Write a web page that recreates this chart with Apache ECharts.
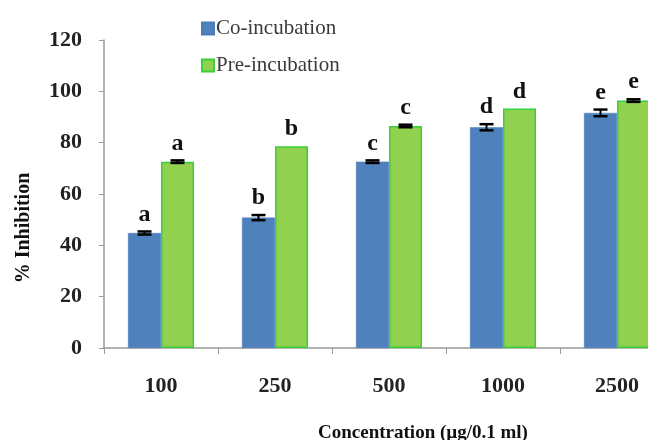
<!DOCTYPE html>
<html>
<head>
<meta charset="utf-8">
<script src="https://cdn.jsdelivr.net/npm/echarts@6/dist/echarts.min.js"></script>
<style>html,body{margin:0;padding:0;background:#fff}#c{width:648px;height:440px}</style>
</head>
<body>
<div id="c"></div>
<script>
var categories = ['100', '250', '500', '1000', '2500'];
var coValues = [44.8, 50.8, 72.6, 86.0, 91.6];
var preValues = [72.6, 78.6, 86.5, 93.3, 96.4];
var coErrors = [0.6, 1.0, 0.5, 1.2, 1.3];
var preErrors = [0.5, 0, 0.5, 0, 0.5];
var coLetters = ['a', 'b', 'c', 'd', 'e'];
var preLetters = ['a', 'b', 'c', 'd', 'e'];
var yTicks = [0, 20, 40, 60, 80, 100, 120];

var FONT = "'Liberation Serif','Times New Roman',serif";
var BAR_W = 33;

function errSeries(name, vals, errs, letters, dx) {
  return {
    type: 'custom',
    name: name + ' err',
    silent: true,
    z: 5,
    data: vals.map(function (v, i) { return [i, v, errs[i]]; }),
    renderItem: function (params, api) {
      var i = api.value(0), v = api.value(1), e = api.value(2);
      var letter = letters[params.dataIndex];
      var top = api.coord([i, v + e]);
      var bot = api.coord([i, v - e]);
      var x = top[0] + dx;
      var children = [];
      if (e > 0) {
        children.push({ type: 'line', shape: { x1: x, y1: top[1], x2: x, y2: bot[1] }, style: { stroke: '#000', lineWidth: 2 } });
        children.push({ type: 'line', shape: { x1: x - 7, y1: top[1], x2: x + 7, y2: top[1] }, style: { stroke: '#000', lineWidth: 2.5 } });
        children.push({ type: 'line', shape: { x1: x - 7, y1: bot[1], x2: x + 7, y2: bot[1] }, style: { stroke: '#000', lineWidth: 2.5 } });
      }
      children.push({ type: 'text', style: { text: letter, x: x, y: top[1] - 5, align: 'center', verticalAlign: 'bottom', font: 'bold 24px ' + FONT, fill: '#111' } });
      return { type: 'group', children: children };
    }
  };
}

var chart = echarts.init(document.getElementById('c'));
chart.setOption({
  animation: false,
  backgroundColor: '#fff',
  textStyle: { fontFamily: FONT },
  legend: {
    orient: 'vertical', left: 196, top: 13, itemGap: 16,
    itemWidth: 12, itemHeight: 12, icon: 'rect',
    data: ['Co-incubation', 'Pre-incubation'],
    textStyle: { fontFamily: FONT, fontSize: 21, color: '#3a3a3a', padding: [0, 0, 0, -3] }
  },
  grid: { left: 104, width: 570, top: 40, height: 308, containLabel: false, outerBoundsMode: 'none' },
  xAxis: {
    type: 'category', data: categories,
    name: 'Concentration (\u00b5g/0.1 ml)', nameLocation: 'middle', nameGap: 76,
    nameTextStyle: { fontFamily: FONT, fontSize: 19, fontWeight: 'bold', color: '#111', padding: [0, 0, 0, 68] },
    axisLine: { lineStyle: { color: '#999', width: 1.5 } },
    axisTick: { show: true, length: 6, lineStyle: { color: '#999' } },
    axisLabel: { fontFamily: FONT, fontSize: 22, fontWeight: 'bold', color: '#222', margin: 27 }
  },
  yAxis: {
    type: 'value', min: 0, max: 120, interval: 20,
    name: '% Inhibition', nameLocation: 'middle', nameGap: 70, nameRotate: 90,
    nameTextStyle: { fontFamily: FONT, fontSize: 20, fontWeight: 'bold', color: '#111', padding: [0, 68, 0, 0] },
    axisLine: { show: true, lineStyle: { color: '#999', width: 1.5 } },
    axisTick: { show: true, length: 5, lineStyle: { color: '#999' } },
    splitLine: { show: false },
    axisLabel: {
      fontFamily: FONT, fontSize: 22, fontWeight: 'bold', color: '#222', margin: 22,
      padding: [4, 0, 0, 0],
      formatter: function (v) { return yTicks.indexOf(v) >= 0 ? String(v) : ''; }
    }
  },
  series: [
    { type: 'bar', name: 'Co-incubation', data: coValues, barWidth: BAR_W, barGap: '0%',
      itemStyle: { color: '#4f81bd', borderColor: '#4a7cb8', borderWidth: 0.5 } },
    { type: 'bar', name: 'Pre-incubation', data: preValues, barWidth: BAR_W, barGap: '0%',
      itemStyle: { color: '#92d050', borderColor: '#3ad03a', borderWidth: 1.5 } },
    errSeries('Co-incubation', coValues, coErrors, coLetters, -BAR_W / 2),
    errSeries('Pre-incubation', preValues, preErrors, preLetters, BAR_W / 2)
  ]
});
</script>
</body>
</html>
